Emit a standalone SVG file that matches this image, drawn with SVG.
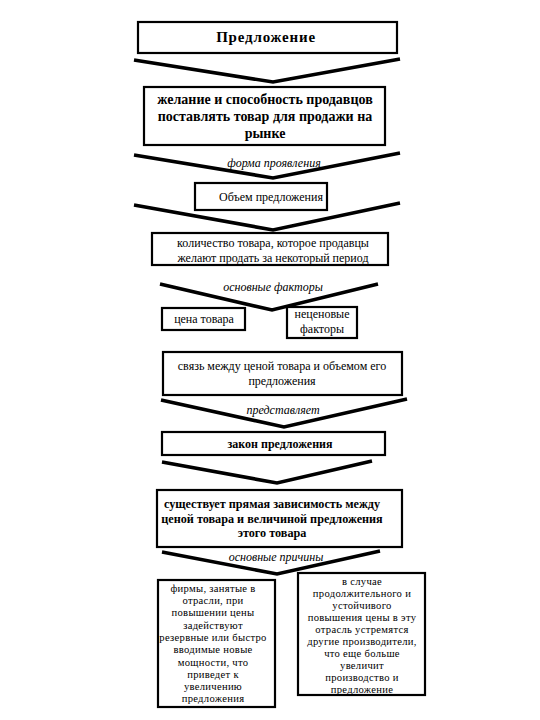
<svg xmlns="http://www.w3.org/2000/svg" width="540" height="720" viewBox="0 0 540 720" font-family="'Liberation Serif', 'DejaVu Serif', serif">
<style>
.box{fill:#fff;stroke:#000;stroke-width:2.2}
.ch{fill:none;stroke:#000;stroke-width:3.6;stroke-linejoin:miter}
text{fill:#000;text-anchor:middle}
.b{font-weight:bold;font-size:14px}
.r{font-size:12px}
.i{font-style:italic;font-size:12px}
.s{font-size:10.6px;letter-spacing:0.3px}
</style>
<rect width="540" height="720" fill="#fff"/>
<g id="connectors">
<polyline class="ch" points="134,60 273,82 400,59"/>
<polyline class="ch" points="134,155 273,178 400,153"/>
<polyline class="ch" points="134,205 273,230 400,203"/>
<polyline class="ch" points="160,284 272,310 378,284"/>
<polyline class="ch" points="161,400 284,427 407,399"/>
<polyline class="ch" points="162,462 277,483 372,461"/>
<polyline class="ch" points="162,552 277,574 380,551"/>
<text class="i" x="274" y="167">форма проявления</text>
<text class="i" x="273" y="291">основные факторы</text>
<text class="i" x="283" y="414">представляет</text>
<text class="i" x="276" y="561">основные причины</text>
</g>
<g id="n1"><rect class="box" x="138" y="22" width="259" height="31"/><text class="b" x="266" y="42" style="font-size:15px;letter-spacing:0.8px">Предложение</text></g>
<g id="n2"><rect class="box" x="144" y="87" width="241" height="58"/>
<text class="b" x="265" y="104">желание и способность продавцов</text>
<text class="b" x="265" y="121">поставлять товар для продажи на</text>
<text class="b" x="265" y="138">рынке</text></g>
<g id="n3"><rect class="box" x="195" y="183" width="132" height="27"/><text class="r" x="271" y="201">Объем предложения</text></g>
<g id="n4"><rect class="box" x="152" y="233" width="236" height="32"/>
<text class="r" x="273" y="247">количество товара, которое продавцы</text>
<text class="r" x="273" y="262">желают продать за некоторый период</text></g>
<g id="n5"><rect class="box" x="162" y="308" width="83" height="22"/><text class="r" x="204" y="323">цена товара</text></g>
<g id="n6"><rect class="box" x="287" y="307" width="70" height="31"/>
<text class="r" x="322" y="318">неценовые</text><text class="r" x="322" y="333">факторы</text></g>
<g id="n7"><rect class="box" x="163" y="352" width="239" height="43"/>
<text class="r" x="282" y="370">связь между ценой товара и объемом его</text>
<text class="r" x="282" y="385">предложения</text></g>
<g id="n8"><rect class="box" x="162" y="432" width="223" height="23"/><text class="b" x="280" y="448" style="font-size:12px">закон предложения</text></g>
<g id="n9"><rect class="box" x="157" y="490" width="245" height="57"/>
<text class="b" x="272" y="508" style="font-size:12.2px">существует прямая зависимость между</text>
<text class="b" x="272" y="523" style="font-size:12.2px">ценой товара и величиной предложения</text>
<text class="b" x="272" y="537" style="font-size:12.2px">этого товара</text></g>
<g id="n10"><rect class="box" x="158" y="580" width="117" height="127"/>
<text class="s" x="213" y="592">фирмы, занятые в</text>
<text class="s" x="213" y="604">отрасли, при</text>
<text class="s" x="213" y="616">повышении цены</text>
<text class="s" x="213" y="629">задействуют</text>
<text class="s" x="213" y="641">резервные или быстро</text>
<text class="s" x="213" y="653">вводимые новые</text>
<text class="s" x="213" y="666">мощности, что</text>
<text class="s" x="213" y="678">приведет к</text>
<text class="s" x="213" y="690">увеличению</text>
<text class="s" x="213" y="702">предложения</text></g>
<g id="n11"><rect class="box" x="298" y="573" width="127" height="122"/>
<text class="s" x="362" y="585">в случае</text>
<text class="s" x="362" y="597">продолжительного и</text>
<text class="s" x="362" y="609">устойчивого</text>
<text class="s" x="362" y="621">повышения цены в эту</text>
<text class="s" x="362" y="633">отрасль устремятся</text>
<text class="s" x="362" y="645">другие производители,</text>
<text class="s" x="362" y="657">что еще больше</text>
<text class="s" x="362" y="669">увеличит</text>
<text class="s" x="362" y="681">производство и</text>
<text class="s" x="362" y="693">предложение</text></g>
</svg>
